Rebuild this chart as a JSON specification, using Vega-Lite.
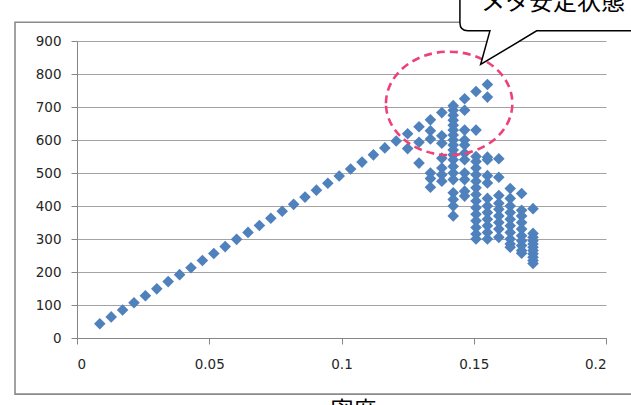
{
  "$schema": "https://vega.github.io/schema/vega-lite/v6.json",
  "width": 529,
  "height": 297,
  "autosize": {"type": "none"},
  "padding": {"left": 77, "right": 25, "top": 41, "bottom": 67},
  "background": "white",
  "view": {"stroke": null},
  "data": {"values": [{}]},
  "config": {
    "axis": {
      "labelFont": "DejaVu Sans",
      "labelFontSize": 13.5,
      "labelColor": "#262626",
      "domainColor": "#868686",
      "tickColor": "#868686",
      "tickSize": 6,
      "gridColor": "#a3a3a3",
      "gridWidth": 1
    },
    "axisX": {"grid": false, "labelPadding": 13},
    "axisY": {"grid": true, "labelPadding": 10}
  },
  "datasets": {
    "pts": [
      {"density": 0.00862, "flow": 43}, {"density": 0.01293, "flow": 64}, {"density": 0.01724, "flow": 85},
      {"density": 0.02155, "flow": 107}, {"density": 0.02586, "flow": 128}, {"density": 0.03017, "flow": 149},
      {"density": 0.03448, "flow": 171}, {"density": 0.03879, "flow": 192}, {"density": 0.0431, "flow": 213},
      {"density": 0.04741, "flow": 235}, {"density": 0.05172, "flow": 256}, {"density": 0.05603, "flow": 277},
      {"density": 0.06034, "flow": 299}, {"density": 0.06466, "flow": 320}, {"density": 0.06897, "flow": 341},
      {"density": 0.07328, "flow": 363}, {"density": 0.07759, "flow": 384}, {"density": 0.0819, "flow": 405},
      {"density": 0.08621, "flow": 427}, {"density": 0.09052, "flow": 448}, {"density": 0.09483, "flow": 469},
      {"density": 0.09914, "flow": 491}, {"density": 0.10345, "flow": 512}, {"density": 0.10776, "flow": 533},
      {"density": 0.11207, "flow": 555}, {"density": 0.11638, "flow": 576}, {"density": 0.12069, "flow": 597},
      {"density": 0.125, "flow": 619}, {"density": 0.12931, "flow": 640}, {"density": 0.13362, "flow": 661},
      {"density": 0.13793, "flow": 683}, {"density": 0.14224, "flow": 704}, {"density": 0.14655, "flow": 725},
      {"density": 0.15086, "flow": 747}, {"density": 0.15517, "flow": 768},
      {"density": 0.125, "flow": 574},
      {"density": 0.12931, "flow": 593}, {"density": 0.12931, "flow": 530},
      {"density": 0.13362, "flow": 628}, {"density": 0.13362, "flow": 603}, {"density": 0.13362, "flow": 500}, {"density": 0.13362, "flow": 483}, {"density": 0.13362, "flow": 457},
      {"density": 0.13793, "flow": 613}, {"density": 0.13793, "flow": 590}, {"density": 0.13793, "flow": 545}, {"density": 0.13793, "flow": 515}, {"density": 0.13793, "flow": 495}, {"density": 0.13793, "flow": 475},
      {"density": 0.14224, "flow": 690}, {"density": 0.14224, "flow": 675}, {"density": 0.14224, "flow": 660}, {"density": 0.14224, "flow": 645}, {"density": 0.14224, "flow": 630}, {"density": 0.14224, "flow": 615}, {"density": 0.14224, "flow": 600}, {"density": 0.14224, "flow": 585}, {"density": 0.14224, "flow": 570}, {"density": 0.14224, "flow": 555}, {"density": 0.14224, "flow": 540}, {"density": 0.14224, "flow": 520}, {"density": 0.14224, "flow": 500}, {"density": 0.14224, "flow": 480}, {"density": 0.14224, "flow": 440}, {"density": 0.14224, "flow": 420}, {"density": 0.14224, "flow": 400}, {"density": 0.14224, "flow": 370},
      {"density": 0.14655, "flow": 690}, {"density": 0.14655, "flow": 630}, {"density": 0.14655, "flow": 600}, {"density": 0.14655, "flow": 585}, {"density": 0.14655, "flow": 560}, {"density": 0.14655, "flow": 540}, {"density": 0.14655, "flow": 500}, {"density": 0.14655, "flow": 480}, {"density": 0.14655, "flow": 445}, {"density": 0.14655, "flow": 430},
      {"density": 0.15086, "flow": 630}, {"density": 0.15086, "flow": 550}, {"density": 0.15086, "flow": 535}, {"density": 0.15086, "flow": 515}, {"density": 0.15086, "flow": 495}, {"density": 0.15086, "flow": 475}, {"density": 0.15086, "flow": 455}, {"density": 0.15086, "flow": 435}, {"density": 0.15086, "flow": 415}, {"density": 0.15086, "flow": 395}, {"density": 0.15086, "flow": 375}, {"density": 0.15086, "flow": 355}, {"density": 0.15086, "flow": 335}, {"density": 0.15086, "flow": 315}, {"density": 0.15086, "flow": 300},
      {"density": 0.15517, "flow": 730}, {"density": 0.15517, "flow": 548}, {"density": 0.15517, "flow": 540}, {"density": 0.15517, "flow": 492}, {"density": 0.15517, "flow": 470}, {"density": 0.15517, "flow": 423}, {"density": 0.15517, "flow": 400}, {"density": 0.15517, "flow": 380}, {"density": 0.15517, "flow": 360}, {"density": 0.15517, "flow": 340}, {"density": 0.15517, "flow": 320}, {"density": 0.15517, "flow": 300},
      {"density": 0.15948, "flow": 543}, {"density": 0.15948, "flow": 487}, {"density": 0.15948, "flow": 432}, {"density": 0.15948, "flow": 408}, {"density": 0.15948, "flow": 390}, {"density": 0.15948, "flow": 370}, {"density": 0.15948, "flow": 350}, {"density": 0.15948, "flow": 330}, {"density": 0.15948, "flow": 305},
      {"density": 0.16379, "flow": 453}, {"density": 0.16379, "flow": 423}, {"density": 0.16379, "flow": 400}, {"density": 0.16379, "flow": 380}, {"density": 0.16379, "flow": 360}, {"density": 0.16379, "flow": 340}, {"density": 0.16379, "flow": 320}, {"density": 0.16379, "flow": 300}, {"density": 0.16379, "flow": 285}, {"density": 0.16379, "flow": 275},
      {"density": 0.1681, "flow": 438}, {"density": 0.1681, "flow": 387}, {"density": 0.1681, "flow": 370}, {"density": 0.1681, "flow": 350}, {"density": 0.1681, "flow": 330}, {"density": 0.1681, "flow": 310}, {"density": 0.1681, "flow": 295}, {"density": 0.1681, "flow": 280}, {"density": 0.1681, "flow": 265}, {"density": 0.1681, "flow": 257},
      {"density": 0.17241, "flow": 392}, {"density": 0.17241, "flow": 317}, {"density": 0.17241, "flow": 305}, {"density": 0.17241, "flow": 295}, {"density": 0.17241, "flow": 285}, {"density": 0.17241, "flow": 275}, {"density": 0.17241, "flow": 265}, {"density": 0.17241, "flow": 255}, {"density": 0.17241, "flow": 245}, {"density": 0.17241, "flow": 235}, {"density": 0.17241, "flow": 226}
    ]
  },
  "layer": [
    {
      "data": {"name": "pts"},
      "mark": {"type": "point", "shape": "diamond", "filled": true, "size": 135, "color": "#4F81BD", "opacity": 1},
      "encoding": {
        "x": {
          "field": "density", "type": "quantitative",
          "scale": {"domain": [0, 0.2], "nice": false, "zero": false},
          "axis": {
            "values": [0, 0.05, 0.1, 0.15, 0.2], "format": "~g",
            "title": "密度", "titleFont": "Noto Sans CJK JP", "titleFontSize": 23,
            "titleFontWeight": "normal", "titleColor": "#000000",
            "titleBaseline": "top", "titleY": 61, "titleX": 276
          }
        },
        "y": {
          "field": "flow", "type": "quantitative",
          "scale": {"domain": [0, 900], "nice": false, "zero": false},
          "axis": {"values": [0, 100, 200, 300, 400, 500, 600, 700, 800, 900], "title": null, "labelOverlap": false}
        }
      }
    },
    {
      "mark": {"type": "rect", "fill": null, "stroke": "#8a8a8a", "strokeWidth": 1.6, "clip": false},
      "encoding": {
        "x": {
          "datum": -0.02344,
          "scale": {"domain": [0, 0.2], "nice": false, "zero": false},
          "axis": {
            "values": [0, 0.05, 0.1, 0.15, 0.2], "format": "~g",
            "title": "密度", "titleFont": "Noto Sans CJK JP", "titleFontSize": 23,
            "titleFontWeight": "normal", "titleColor": "#000000",
            "titleBaseline": "top", "titleY": 61, "titleX": 276
          }
        },
        "x2": {"datum": 0.25},
        "y": {
          "datum": 957,
          "scale": {"domain": [0, 900], "nice": false, "zero": false},
          "axis": {"values": [0, 100, 200, 300, 400, 500, 600, 700, 800, 900], "title": null, "labelOverlap": false}
        },
        "y2": {"datum": -170}
      }
    },
    {
      "mark": {
        "type": "point",
        "shape": "M -1 0 A 1 0.818 0 1 1 1 0 A 1 0.818 0 1 1 -1 0 Z",
        "size": 15976, "filled": false, "stroke": "#EE4179", "strokeWidth": 2.6,
        "strokeDash": [8, 5], "opacity": 1, "clip": false
      },
      "encoding": {
        "x": {
          "datum": 0.1407,
          "scale": {"domain": [0, 0.2], "nice": false, "zero": false},
          "axis": {
            "values": [0, 0.05, 0.1, 0.15, 0.2], "format": "~g",
            "title": "密度", "titleFont": "Noto Sans CJK JP", "titleFontSize": 23,
            "titleFontWeight": "normal", "titleColor": "#000000",
            "titleBaseline": "top", "titleY": 61, "titleX": 276
          }
        },
        "y": {
          "datum": 711,
          "scale": {"domain": [0, 900], "nice": false, "zero": false},
          "axis": {"values": [0, 100, 200, 300, 400, 500, 600, 700, 800, 900], "title": null, "labelOverlap": false}
        }
      }
    },
    {
      "mark": {
        "type": "point",
        "shape": "M 0 0 L 0.093 -0.336 L -0.127 -0.336 Q -0.207 -0.336 -0.207 -0.416 L -0.207 -0.9 L 1.9 -0.9 L 1.9 -0.336 L 0.56 -0.336 Z",
        "size": 40000, "filled": true, "fill": "#ffffff", "stroke": "#000000", "strokeWidth": 1.5,
        "opacity": 1, "clip": false
      },
      "encoding": {
        "x": {
          "datum": 0.1526,
          "scale": {"domain": [0, 0.2], "nice": false, "zero": false},
          "axis": {
            "values": [0, 0.05, 0.1, 0.15, 0.2], "format": "~g",
            "title": "密度", "titleFont": "Noto Sans CJK JP", "titleFontSize": 23,
            "titleFontWeight": "normal", "titleColor": "#000000",
            "titleBaseline": "top", "titleY": 61, "titleX": 276
          }
        },
        "y": {
          "datum": 829,
          "scale": {"domain": [0, 900], "nice": false, "zero": false},
          "axis": {"values": [0, 100, 200, 300, 400, 500, 600, 700, 800, 900], "title": null, "labelOverlap": false}
        }
      }
    },
    {
      "mark": {
        "type": "text", "text": "メタ安定状態", "font": "Noto Sans CJK JP", "fontSize": 24,
        "color": "#000000", "align": "center", "baseline": "alphabetic", "clip": false
      },
      "encoding": {
        "x": {
          "datum": 0.18,
          "scale": {"domain": [0, 0.2], "nice": false, "zero": false},
          "axis": {
            "values": [0, 0.05, 0.1, 0.15, 0.2], "format": "~g",
            "title": "密度", "titleFont": "Noto Sans CJK JP", "titleFontSize": 23,
            "titleFontWeight": "normal", "titleColor": "#000000",
            "titleBaseline": "top", "titleY": 61, "titleX": 276
          }
        },
        "y": {
          "datum": 994,
          "scale": {"domain": [0, 900], "nice": false, "zero": false},
          "axis": {"values": [0, 100, 200, 300, 400, 500, 600, 700, 800, 900], "title": null, "labelOverlap": false}
        }
      }
    }
  ]
}
